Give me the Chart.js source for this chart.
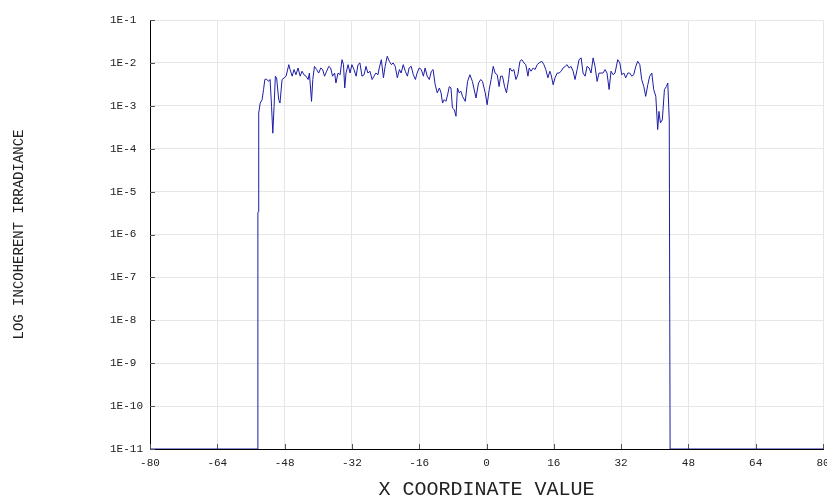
<!DOCTYPE html>
<html>
<head>
<meta charset="utf-8">
<title>Log incoherent irradiance</title>
<script src="https://cdn.jsdelivr.net/npm/chart.js@4/dist/chart.umd.min.js"></script>
<style>
  html, body { margin: 0; padding: 0; background: #fff; }
  canvas { display: block; }
</style>
</head>
<body>
<canvas id="irradianceChart" width="827" height="498"></canvas>
<script>
// x coordinate of each sample
var xCoord = [
  -80, -54.4, -54.35, -54.25, -54.15, -53.8, -53.35, -53.0, -52.7, -52.3,
  -51.8, -51.45, -51.1, -50.8, -50.5, -50.2, -49.9, -49.4, -49.1, -48.6,
  -48.1, -47.65, -47.0, -46.7, -46.2, -45.75, -45.3, -44.8, -44.3, -43.85,
  -43.4, -42.9, -42.4, -42.1, -41.6, -41.3, -40.9, -40.4, -39.9, -39.4,
  -38.95, -38.5, -38.0, -37.5, -37.05, -36.6, -36.1, -35.8, -35.3, -34.8,
  -34.35, -34.0, -33.7, -33.4, -32.9, -32.45, -32.0, -31.5, -31.0, -30.55,
  -30.1, -29.6, -29.1, -28.65, -28.2, -27.7, -27.2, -26.75, -26.3, -25.8,
  -25.5, -25.0, -24.5, -24.1, -23.6, -23.1, -22.6, -22.2, -21.7, -21.2,
  -20.7, -20.3, -19.8, -19.3, -18.8, -18.4, -17.9, -17.4, -16.9, -16.5,
  -16.0, -15.5, -15.0, -14.6, -14.1, -13.6, -13.1, -12.7, -12.2, -11.7,
  -11.2, -10.8, -10.45, -10.05, -9.65, -9.25, -8.85, -8.45, -8.1, -7.65,
  -7.25, -6.9, -6.5, -6.1, -5.7, -5.05, -4.5, -3.95, -3.35, -2.5,
  -1.9, -1.35, -0.95, -0.3, 0.15, 0.65, 1.1, 1.6, 2.05, 2.55,
  3.0, 3.35, 3.8, 4.3, 4.75, 5.25, 5.55, 6.05, 6.5, 7.0,
  7.45, 7.95, 8.4, 8.9, 9.35, 9.85, 10.15, 10.6, 11.1, 11.55,
  12.05, 12.5, 13.15, 13.65, 14.1, 14.6, 15.05, 15.35, 15.85, 16.3,
  16.8, 17.25, 17.75, 18.2, 18.7, 19.15, 19.65, 20.1, 20.6, 21.05,
  21.55, 22.0, 22.5, 22.95, 23.45, 23.9, 24.4, 24.85, 25.35, 25.8,
  26.3, 26.75, 27.25, 27.7, 28.2, 28.65, 29.15, 29.6, 30.1, 30.55,
  31.2, 31.7, 32.15, 32.65, 33.1, 33.6, 34.05, 34.55, 35.0, 35.5,
  35.95, 36.45, 36.9, 37.4, 37.85, 38.35, 38.8, 39.3, 39.75, 40.25,
  40.7, 41.0, 41.35, 41.8, 42.3, 42.75, 43.1, 43.45, 43.65, 80
];

// incoherent irradiance at each sample
var irradiance = [
  1e-11, 1e-11, 3.2e-6, 3.4e-6, 6.8e-4, 1.16e-3, 1.39e-3, 2.4e-3, 4.1e-3, 4.2e-3,
  3.7e-3, 4.1e-3, 9.7e-4, 2.3e-4, 9.7e-4, 4.9e-3, 4.5e-3, 1.39e-3, 1.16e-3, 4.1e-3,
  4.5e-3, 4.9e-3, 9.1e-3, 7.0e-3, 4.9e-3, 7.0e-3, 5.3e-3, 7.6e-3, 4.9e-3, 6.4e-3,
  5.3e-3, 4.9e-3, 4.1e-3, 5.8e-3, 1.27e-3, 4.1e-3, 8.3e-3, 7.0e-3, 5.8e-3, 7.6e-3,
  7.0e-3, 4.9e-3, 6.4e-3, 8.3e-3, 7.6e-3, 4.9e-3, 5.8e-3, 3.4e-3, 5.8e-3, 5.3e-3,
  1.19e-2, 9.1e-3, 2.6e-3, 5.8e-3, 9.1e-3, 5.8e-3, 9.1e-3, 7.0e-3, 4.9e-3, 9.1e-3,
  1.0e-2, 4.9e-3, 5.3e-3, 8.3e-3, 5.8e-3, 6.4e-3, 4.1e-3, 4.9e-3, 5.8e-3, 5.3e-3,
  7.6e-3, 1.19e-2, 4.5e-3, 8.3e-3, 1.43e-2, 1.09e-2, 9.1e-3, 1.0e-2, 8.3e-3, 4.5e-3,
  7.0e-3, 5.8e-3, 9.1e-3, 6.4e-3, 4.9e-3, 7.6e-3, 8.3e-3, 5.3e-3, 4.1e-3, 5.8e-3,
  7.6e-3, 7.0e-3, 4.9e-3, 7.6e-3, 4.9e-3, 4.1e-3, 6.4e-3, 7.0e-3, 3.1e-3, 2.0e-3,
  2.6e-3, 2.0e-3, 1.16e-3, 1.39e-3, 1.27e-3, 1.8e-3, 2.8e-3, 2.6e-3, 8.9e-4, 8.1e-4,
  5.7e-4, 2.6e-3, 2.0e-3, 2.2e-3, 1.66e-3, 1.27e-3, 3.7e-3, 5.3e-3, 3.7e-3, 1.52e-3,
  3.4e-3, 4.1e-3, 3.7e-3, 2.0e-3, 1.06e-3, 2.4e-3, 4.1e-3, 8.3e-3, 5.8e-3, 5.3e-3,
  2.8e-3, 4.9e-3, 4.9e-3, 2.8e-3, 2.0e-3, 4.1e-3, 7.6e-3, 6.4e-3, 7.0e-3, 4.1e-3,
  5.3e-3, 1.09e-2, 1.19e-2, 1.0e-2, 9.1e-3, 4.9e-3, 7.6e-3, 6.4e-3, 7.6e-3, 7.0e-3,
  9.1e-3, 1.0e-2, 1.09e-2, 9.1e-3, 7.0e-3, 4.5e-3, 6.4e-3, 5.3e-3, 3.1e-3, 4.5e-3,
  5.8e-3, 5.8e-3, 6.4e-3, 7.6e-3, 8.3e-3, 9.1e-3, 7.6e-3, 8.3e-3, 6.4e-3, 4.1e-3,
  7.0e-3, 1.19e-2, 1.31e-2, 5.8e-3, 4.9e-3, 8.3e-3, 7.6e-3, 5.8e-3, 1.31e-2, 8.3e-3,
  3.7e-3, 5.8e-3, 5.8e-3, 5.8e-3, 7.0e-3, 5.8e-3, 2.4e-3, 6.4e-3, 5.3e-3, 5.8e-3,
  1.19e-2, 1.0e-2, 5.3e-3, 5.8e-3, 4.5e-3, 5.8e-3, 5.8e-3, 4.9e-3, 5.3e-3, 8.3e-3,
  1.09e-2, 9.1e-3, 4.1e-3, 2.8e-3, 1.66e-3, 3.1e-3, 4.9e-3, 5.8e-3, 2.4e-3, 1.66e-3,
  2.8e-4, 7.4e-4, 4.0e-4, 4.7e-4, 2.4e-3, 2.8e-3, 3.4e-3, 4.7e-4, 1e-11, 1e-11
];

var xTicks = [-80, -64, -48, -32, -16, 0, 16, 32, 48, 64, 80];
var yTickValues = [1e-11, 1e-10, 1e-9, 1e-8, 1e-7, 1e-6, 1e-5, 1e-4, 1e-3, 1e-2, 1e-1];
var yTickLabels = ['1E-11', '1E-10', '1E-9', '1E-8', '1E-7', '1E-6', '1E-5', '1E-4', '1E-3', '1E-2', '1E-1'];

var points = xCoord.map(function (x, i) {
  return { x: x, y: irradiance[i] };
});

var monoFont = "'Liberation Mono', 'DejaVu Sans Mono', monospace";

// short tick marks pointing into the plot from the left and bottom axes
var innerTicks = {
  id: 'innerTicks',
  beforeDatasetsDraw: function (chart) {
    var ctx = chart.ctx;
    var area = chart.chartArea;
    var xs = chart.scales.x;
    var ys = chart.scales.y;
    ctx.save();
    ctx.strokeStyle = '#555';
    ctx.lineWidth = 1;
    ctx.beginPath();
    xTicks.forEach(function (t) {
      var px = Math.round(xs.getPixelForValue(t)) + 0.5;
      ctx.moveTo(px, area.bottom);
      ctx.lineTo(px, area.bottom - 5);
    });
    yTickValues.forEach(function (t) {
      var py = Math.round(ys.getPixelForValue(t)) + 0.5;
      ctx.moveTo(area.left, py);
      ctx.lineTo(area.left + 5, py);
    });
    ctx.stroke();
    ctx.restore();
  }
};

var chart = new Chart(document.getElementById('irradianceChart'), {
  type: 'line',
  data: {
    datasets: [{
      data: points,
      borderColor: '#1c1ca6',
      borderWidth: 1,
      pointRadius: 0,
      tension: 0,
      fill: false
    }]
  },
  options: {
    responsive: false,
    animation: false,
    devicePixelRatio: 1,
    layout: { padding: { top: 20, right: 4, left: 0, bottom: 0 } },
    plugins: {
      legend: { display: false },
      tooltip: { enabled: false }
    },
    scales: {
      x: {
        type: 'linear',
        min: -80,
        max: 80,
        afterBuildTicks: function (scale) {
          scale.ticks = xTicks.map(function (v) { return { value: v }; });
        },
        afterFit: function (scale) {
          scale.height = 49;
          scale.paddingLeft = 0;
          scale.paddingRight = 0;
        },
        grid: { color: '#e6e6e6', drawTicks: false },
        border: { color: '#000', width: 1 },
        ticks: {
          padding: 7,
          autoSkip: false,
          maxRotation: 0,
          color: '#222',
          font: { family: monoFont, size: 11 }
        },
        title: {
          display: true,
          text: 'X COORDINATE VALUE',
          color: '#222',
          padding: { top: 0, bottom: 0 },
          font: { family: monoFont, size: 20, lineHeight: 0.8 }
        }
      },
      y: {
        type: 'logarithmic',
        min: 1e-11,
        max: 1e-1,
        afterBuildTicks: function (scale) {
          scale.ticks = yTickValues.map(function (v) { return { value: v }; });
        },
        afterFit: function (scale) {
          scale.width = 150;
        },
        grid: { color: '#e6e6e6', drawTicks: false },
        border: { color: '#000', width: 1 },
        ticks: {
          padding: 7,
          autoSkip: false,
          color: '#222',
          font: { family: monoFont, size: 11 },
          // pad to a common width so the labels line up on their left edge
          callback: function (value) {
            return yTickLabels[yTickValues.indexOf(value)].padEnd(5, ' ');
          }
        },
        title: {
          display: true,
          text: 'LOG INCOHERENT IRRADIANCE',
          color: '#222',
          padding: { top: 11, bottom: 0 },
          font: { family: monoFont, size: 14, lineHeight: 1.2 }
        }
      }
    }
  },
  plugins: [innerTicks]
});
</script>
</body>
</html>
